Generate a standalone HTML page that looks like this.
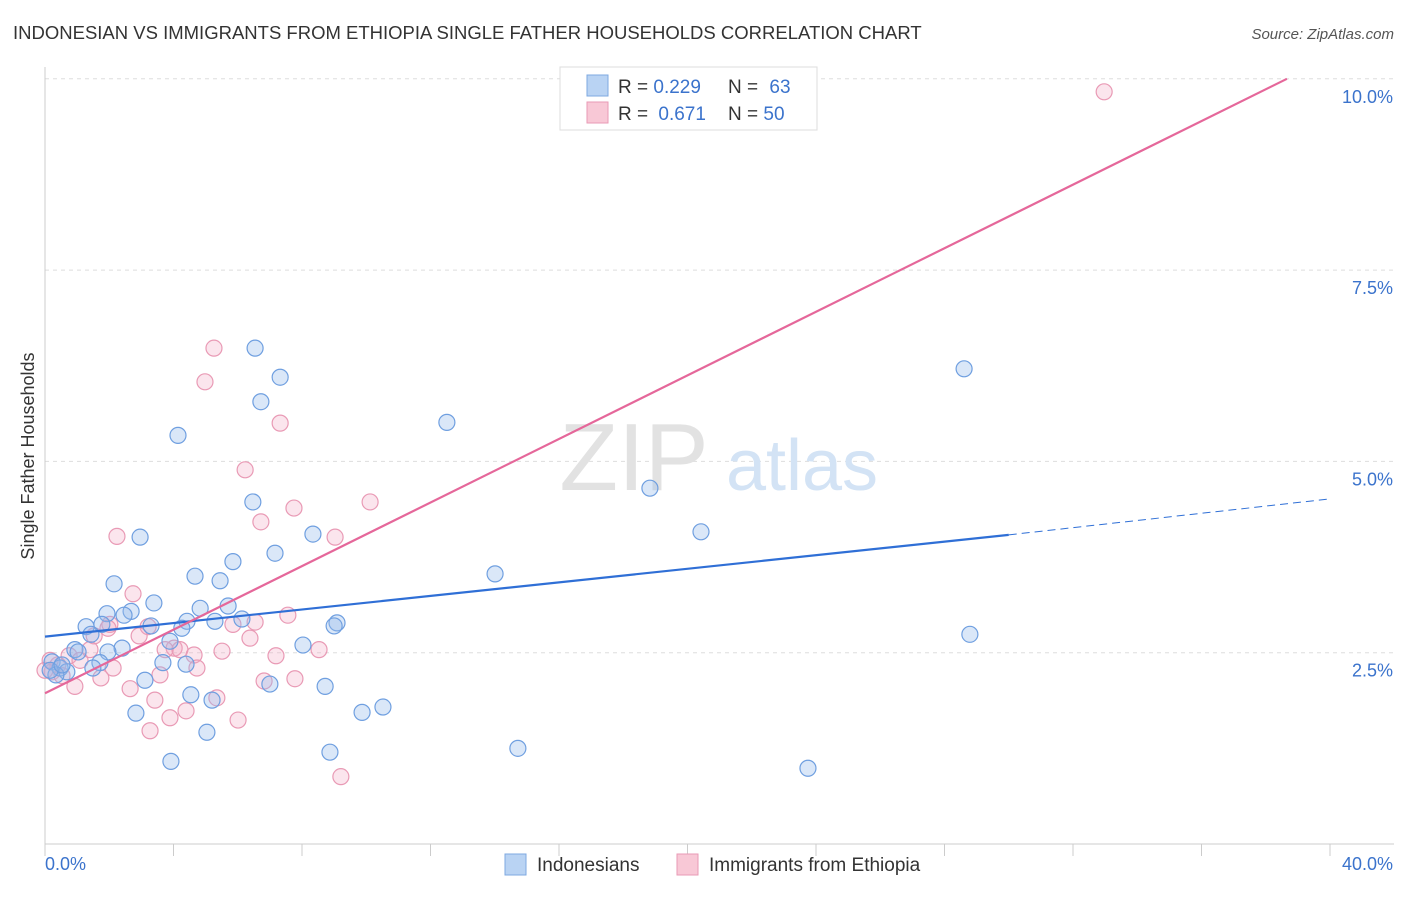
<!DOCTYPE html>
<html><head><meta charset="utf-8"><style>
body{margin:0;background:#fff;font-family:"Liberation Sans",sans-serif;}
svg text{font-family:"Liberation Sans",sans-serif;}
</style></head><body>
<svg id="chart" width="1406" height="892" xmlns="http://www.w3.org/2000/svg">
<text x="13" y="39" font-size="18.5" fill="#333">INDONESIAN VS IMMIGRANTS FROM ETHIOPIA SINGLE FATHER HOUSEHOLDS CORRELATION CHART</text>
<text x="1394" y="39" font-size="15" fill="#555" text-anchor="end" font-style="italic">Source: ZipAtlas.com</text>
<g id="grid"></g>
<g>
<text x="634" y="490" font-size="96" fill="#e2e2e2" text-anchor="middle" font-family="Liberation Serif, serif">ZIP</text>
<text x="802" y="490" font-size="72" fill="#d3e3f5" text-anchor="middle">atlas</text>
</g>
<g id="axes"></g>
<g id="marks"></g>
<text transform="translate(34,456) rotate(-90)" font-size="18" fill="#333" text-anchor="middle">Single Father Households</text>
<g>
<rect x="560" y="67" width="257" height="63" fill="#fff" stroke="#ddd"/>
<rect x="587" y="75" width="21" height="21" fill="#b9d3f3" stroke="#7ea8e0"/>
<rect x="587" y="102" width="21" height="21" fill="#f8c8d6" stroke="#e99ab5"/>
<text x="618" y="93" font-size="19" fill="#333">R = <tspan fill="#3b73cc">0.229</tspan></text>
<text x="728" y="93" font-size="19" fill="#333">N = <tspan fill="#3b73cc" dx="6">63</tspan></text>
<text x="618" y="120" font-size="19" fill="#333">R = <tspan fill="#3b73cc" dx="5">0.671</tspan></text>
<text x="728" y="120" font-size="19" fill="#333">N = <tspan fill="#3b73cc">50</tspan></text>
</g>
<g>
<rect x="505" y="854" width="21" height="21" fill="#b9d3f3" stroke="#7ea8e0"/>
<text x="537" y="871" font-size="19" fill="#333">Indonesians</text>
<rect x="677" y="854" width="21" height="21" fill="#f8c8d6" stroke="#e99ab5"/>
<text x="709" y="871" font-size="19" fill="#333">Immigrants from Ethiopia</text>
</g>
</svg>
<script>
const blueX=[6.54,7.32,6.72,4.14,12.51,28.61,18.83,6.47,20.42,2.96,8.34,7.16,5.85,14.01,4.67,5.45,2.15,3.39,2.68,1.93,2.46,5.70,4.83,6.13,4.42,5.29,9.09,9.00,3.30,4.26,1.28,1.77,1.43,3.89,8.03,2.40,28.79,0.93,1.03,1.96,3.67,4.39,1.71,1.49,0.22,0.47,0.68,0.34,3.11,7.00,8.72,4.54,5.20,10.52,9.87,2.83,5.04,8.87,14.72,3.92,23.75,0.16,0.53];
const blueY=[6.48,6.10,5.78,5.34,5.51,6.21,4.65,4.47,4.08,4.01,4.05,3.80,3.69,3.53,3.50,3.44,3.40,3.15,3.04,3.01,2.99,3.11,3.08,2.94,2.91,2.91,2.89,2.85,2.85,2.82,2.84,2.87,2.74,2.65,2.60,2.56,2.74,2.54,2.51,2.51,2.37,2.35,2.37,2.30,2.38,2.30,2.25,2.21,2.14,2.09,2.06,1.95,1.88,1.79,1.72,1.71,1.46,1.20,1.25,1.08,0.99,2.27,2.34];
const pinkX=[32.97,5.26,4.98,7.32,6.23,10.12,7.75,6.72,2.24,9.03,2.74,7.56,6.54,5.85,2.02,1.96,3.21,1.53,2.93,6.38,4.02,4.20,3.74,5.51,4.64,8.53,7.19,0.75,1.09,2.12,4.73,1.74,0.40,3.58,6.82,7.78,2.65,0.93,5.35,3.42,4.39,3.89,6.01,3.27,9.21,0.22,0.00,0.53,1.40,0.16];
const pinkY=[9.83,6.48,6.04,5.50,4.89,4.47,4.39,4.21,4.02,4.01,3.27,2.99,2.90,2.87,2.87,2.82,2.84,2.72,2.72,2.69,2.56,2.54,2.54,2.52,2.47,2.54,2.46,2.46,2.40,2.30,2.30,2.17,2.34,2.21,2.13,2.16,2.03,2.06,1.91,1.88,1.74,1.65,1.62,1.48,0.88,2.25,2.27,2.20,2.54,2.40];
const blueTrend=[[0,2.71],[30,4.04],[40,4.51]];
const pinkTrend=[[0,1.97],[38.66,10]];
const yTicks=[2.5,5,7.5,10];
const yTickLabels=["2.5%","5.0%","7.5%","10.0%"];
const xTicks=[0,4,8,12,16,20,24,28,32,36,40];

const NS="http://www.w3.org/2000/svg";
const sx=v=>45+v/40*1285;
const sy=v=>844-v*76.52;
function mk(tag,attrs,parent){const e=document.createElementNS(NS,tag);for(const k in attrs)e.setAttribute(k,attrs[k]);parent.appendChild(e);return e;}
const grid=document.getElementById('grid'),axes=document.getElementById('axes'),marks=document.getElementById('marks');
yTicks.forEach((t,i)=>{
 const l=mk('line',{x1:45,x2:1394,y1:sy(t),y2:sy(t),stroke:'#ddd','stroke-dasharray':'4,4'},grid);
 
 
 const tx=mk('text',{x:1393,y:sy(t)+24,'font-size':18,fill:'#3b73cc','text-anchor':'end'},axes);
 tx.textContent=yTickLabels[i];
 
 
});
const al=mk('line',{x1:45,x2:1394,y1:844,y2:844,stroke:'#ccc'},axes);


const yl=mk('line',{x1:45,x2:45,y1:67,y2:844,stroke:'#ccc'},axes);


xTicks.forEach(t=>{
 const k=mk('line',{x1:sx(t),x2:sx(t),y1:844,y2:856,stroke:'#ccc'},axes);
 
 
});
const x0=mk('text',{x:45,y:870,'font-size':18,fill:'#3b73cc'},axes);x0.textContent='0.0%';


const x1=mk('text',{x:1393,y:870,'font-size':18,fill:'#3b73cc','text-anchor':'end'},axes);x1.textContent='40.0%';


function pts(xs,ys,fill,stroke,name){xs.forEach((x,i)=>{
 const c=mk('circle',{cx:sx(x),cy:sy(ys[i]),r:8,fill:fill,stroke:stroke,'stroke-width':1.2},marks);
 
 
});}
pts(pinkX,pinkY,'rgba(243,170,196,0.3)','#e99ab5','point-ethiopia');
pts(blueX,blueY,'rgba(150,186,236,0.35)','#6f9fe0','point-indonesians');
const b1=mk('line',{x1:sx(blueTrend[0][0]),y1:sy(blueTrend[0][1]),x2:sx(blueTrend[1][0]),y2:sy(blueTrend[1][1]),stroke:'#2f6fd6','stroke-width':2.2},marks);


const b2=mk('line',{x1:sx(blueTrend[1][0]),y1:sy(blueTrend[1][1]),x2:sx(blueTrend[2][0]),y2:sy(blueTrend[2][1]),stroke:'#2f6fd6','stroke-width':1,'stroke-dasharray':'8,5'},marks);


const p1=mk('line',{x1:sx(pinkTrend[0][0]),y1:sy(pinkTrend[0][1]),x2:sx(pinkTrend[1][0]),y2:sy(pinkTrend[1][1]),stroke:'#e5679a','stroke-width':2.2},marks);


</script>
</body></html>
